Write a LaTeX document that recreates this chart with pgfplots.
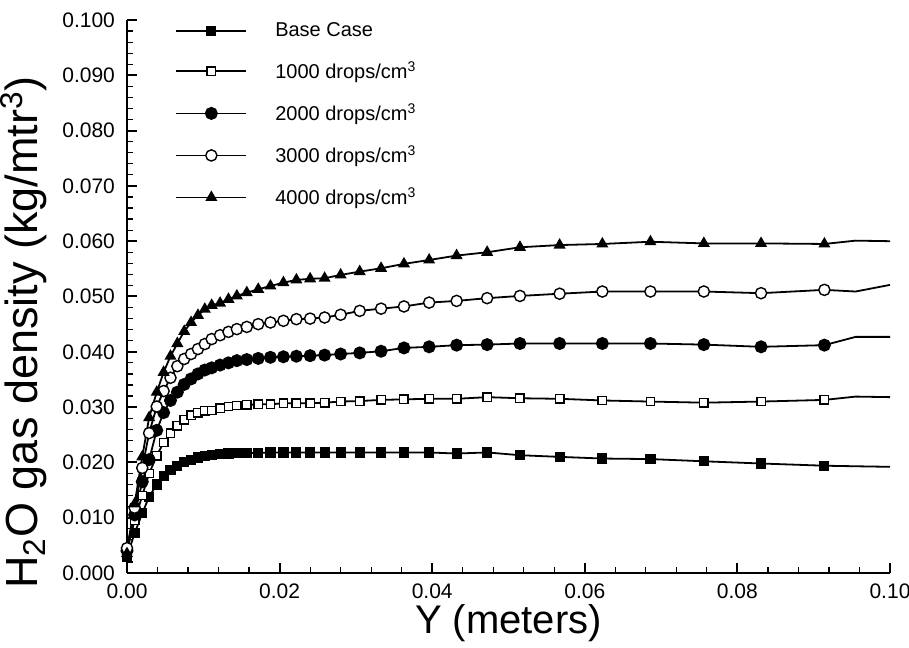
\documentclass[border=0pt]{standalone}
\usepackage{fontspec}
\setmainfont{Liberation Sans}
\usepackage{pgfplots}
\usepackage{pgfplotstable}
\pgfplotsset{compat=1.18}

\pgfplotstableread{
x       base    dA      dB      dC      dD
0.0000  0.0030  0.0040  0.0040  0.0045  0.0035
0.0010  0.0072  0.0095  0.0105  0.0118  0.0125
0.0020  0.0108  0.0140  0.0165  0.0190  0.0210
0.0029  0.0138  0.0180  0.0205  0.0253  0.0281
0.0039  0.0160  0.0212  0.0258  0.0301  0.0327
0.0048  0.0175  0.0236  0.0290  0.0329  0.0363
0.0057  0.0186  0.0253  0.0312  0.0353  0.0392
0.0066  0.0194  0.0266  0.0327  0.0374  0.0415
0.0075  0.0200  0.0277  0.0341  0.0387  0.0437
0.0084  0.0205  0.0285  0.0351  0.0396  0.0453
0.0093  0.0209  0.0290  0.0360  0.0405  0.0466
0.0102  0.0212  0.0293  0.0367  0.0414  0.0477
0.0111  0.0214  0.0294  0.0371  0.0423  0.0484
0.0122  0.0215  0.0298  0.0376  0.0430  0.0488
0.0133  0.0216  0.0301  0.0380  0.0436  0.0495
0.0144  0.0217  0.0303  0.0384  0.0441  0.0501
0.0157  0.0217  0.0304  0.0386  0.0445  0.0507
0.0172  0.0217  0.0305  0.0388  0.0450  0.0513
0.0188  0.0218  0.0305  0.0390  0.0453  0.0519
0.0205  0.0218  0.0307  0.0391  0.0456  0.0525
0.0222  0.0218  0.0307  0.0392  0.0459  0.0530
0.0240  0.0218  0.0307  0.0393  0.0460  0.0532
0.0259  0.0218  0.0308  0.0394  0.0462  0.0533
0.0280  0.0218  0.0310  0.0396  0.0467  0.0539
0.0305  0.0218  0.0311  0.0398  0.0474  0.0545
0.0333  0.0218  0.0313  0.0401  0.0478  0.0551
0.0363  0.0218  0.0314  0.0407  0.0482  0.0559
0.0396  0.0218  0.0315  0.0409  0.0489  0.0566
0.0432  0.0216  0.0315  0.0412  0.0492  0.0574
0.0472  0.0218  0.0318  0.0413  0.0497  0.0580
0.0515  0.0213  0.0316  0.0415  0.0501  0.0589
0.0567  0.0210  0.0315  0.0415  0.0505  0.0593
0.0623  0.0207  0.0312  0.0415  0.0509  0.0595
0.0686  0.0206  0.0310  0.0415  0.0509  0.0599
0.0756  0.0202  0.0308  0.0413  0.0509  0.0596
0.0831  0.0198  0.0310  0.0409  0.0506  0.0596
0.0914  0.0194  0.0313  0.0412  0.0512  0.0595
}\markers

\pgfplotstableread{
x       base    dA      dB      dC      dD
0.0914  0.0194  0.0313  0.0412  0.0512  0.0595
0.0955  0.0193  0.0319  0.0427  0.0509  0.0601
0.1000  0.0192  0.0318  0.0427  0.0521  0.0600
}\tails

\begin{document}
\begin{tikzpicture}
\useasboundingbox (-63.5pt,-37pt) rectangle (391pt,286.5pt);
\begin{axis}[
  scale only axis,
  width=381.5pt, height=276.5pt,
  xmin=0, xmax=0.1, ymin=0, ymax=0.1,
  clip=false,
  axis lines=left,
  axis line style={-, line width=1.2pt},
  tick align=inside,
  xtick={0,0.02,0.04,0.06,0.08,0.1},
  ytick={0,0.01,0.02,0.03,0.04,0.05,0.06,0.07,0.08,0.09,0.1},
  minor x tick num=4, minor y tick num=4,
  major tick length=5pt, minor tick length=3pt,
  major tick style={line width=1pt, black},
  minor tick style={line width=0.6pt, black},
  scaled x ticks=false, scaled y ticks=false,
  /pgf/number format/assume math mode=true,
  xticklabel style={/pgf/number format/.cd, fixed, fixed zerofill, precision=2, /tikz/.cd, yshift=-2pt},
  yticklabel style={/pgf/number format/.cd, fixed, fixed zerofill, precision=3, /tikz/.cd, xshift=-2.5pt},
  tick label style={font=\fontsize{10.5}{12}\selectfont},
  xlabel={Y (meters)},
  ylabel={H\textsubscript{2}O gas density (kg/mtr\textsuperscript{3})},
  xlabel style={font=\fontsize{20}{24}\selectfont, inner sep=0pt, at={(axis description cs:0.5,-0.09)}, anchor=center},
  ylabel style={font=\fontsize{22.5}{26}\selectfont, inner sep=0pt, at={(axis description cs:-0.135,0.435)}, anchor=center},
  legend image code/.code={\draw[mark repeat=2,mark phase=2,#1] plot coordinates {(0pt,0pt) (17.5pt,0pt) (35pt,0pt)}; \path (48pt,0pt);},
  legend cell align=left,
  legend style={at={(axis description cs:0.063,1.0)}, anchor=north west, draw=none, fill=none,
    font=\fontsize{10}{12}\selectfont, row sep=9pt, inner sep=0pt,
    nodes={inner sep=1pt}},
  every axis plot/.append style={line width=0.9pt, black},
]
\addplot[mark=square*, mark size=2.1pt] table[x=x, y=base] {\markers};
\addlegendentry{Base Case}
\addplot[mark=square*, mark size=2.1pt, mark options={fill=white, line width=0.7pt}] table[x=x, y=dA] {\markers};
\addlegendentry{1000 drops/cm\textsuperscript{3}}
\addplot[mark=*, mark size=2.8pt] table[x=x, y=dB] {\markers};
\addlegendentry{2000 drops/cm\textsuperscript{3}}
\addplot[mark=*, mark size=2.8pt, mark options={fill=white, line width=0.7pt}] table[x=x, y=dC] {\markers};
\addlegendentry{3000 drops/cm\textsuperscript{3}}
\addplot[mark=triangle*, mark size=2.6pt] table[x=x, y=dD] {\markers};
\addlegendentry{4000 drops/cm\textsuperscript{3}}
\addplot[forget plot, no marks] table[x=x, y=base] {\tails};
\addplot[forget plot, no marks] table[x=x, y=dA] {\tails};
\addplot[forget plot, no marks] table[x=x, y=dB] {\tails};
\addplot[forget plot, no marks] table[x=x, y=dC] {\tails};
\addplot[forget plot, no marks] table[x=x, y=dD] {\tails};
\end{axis}
\end{tikzpicture}
\end{document}
